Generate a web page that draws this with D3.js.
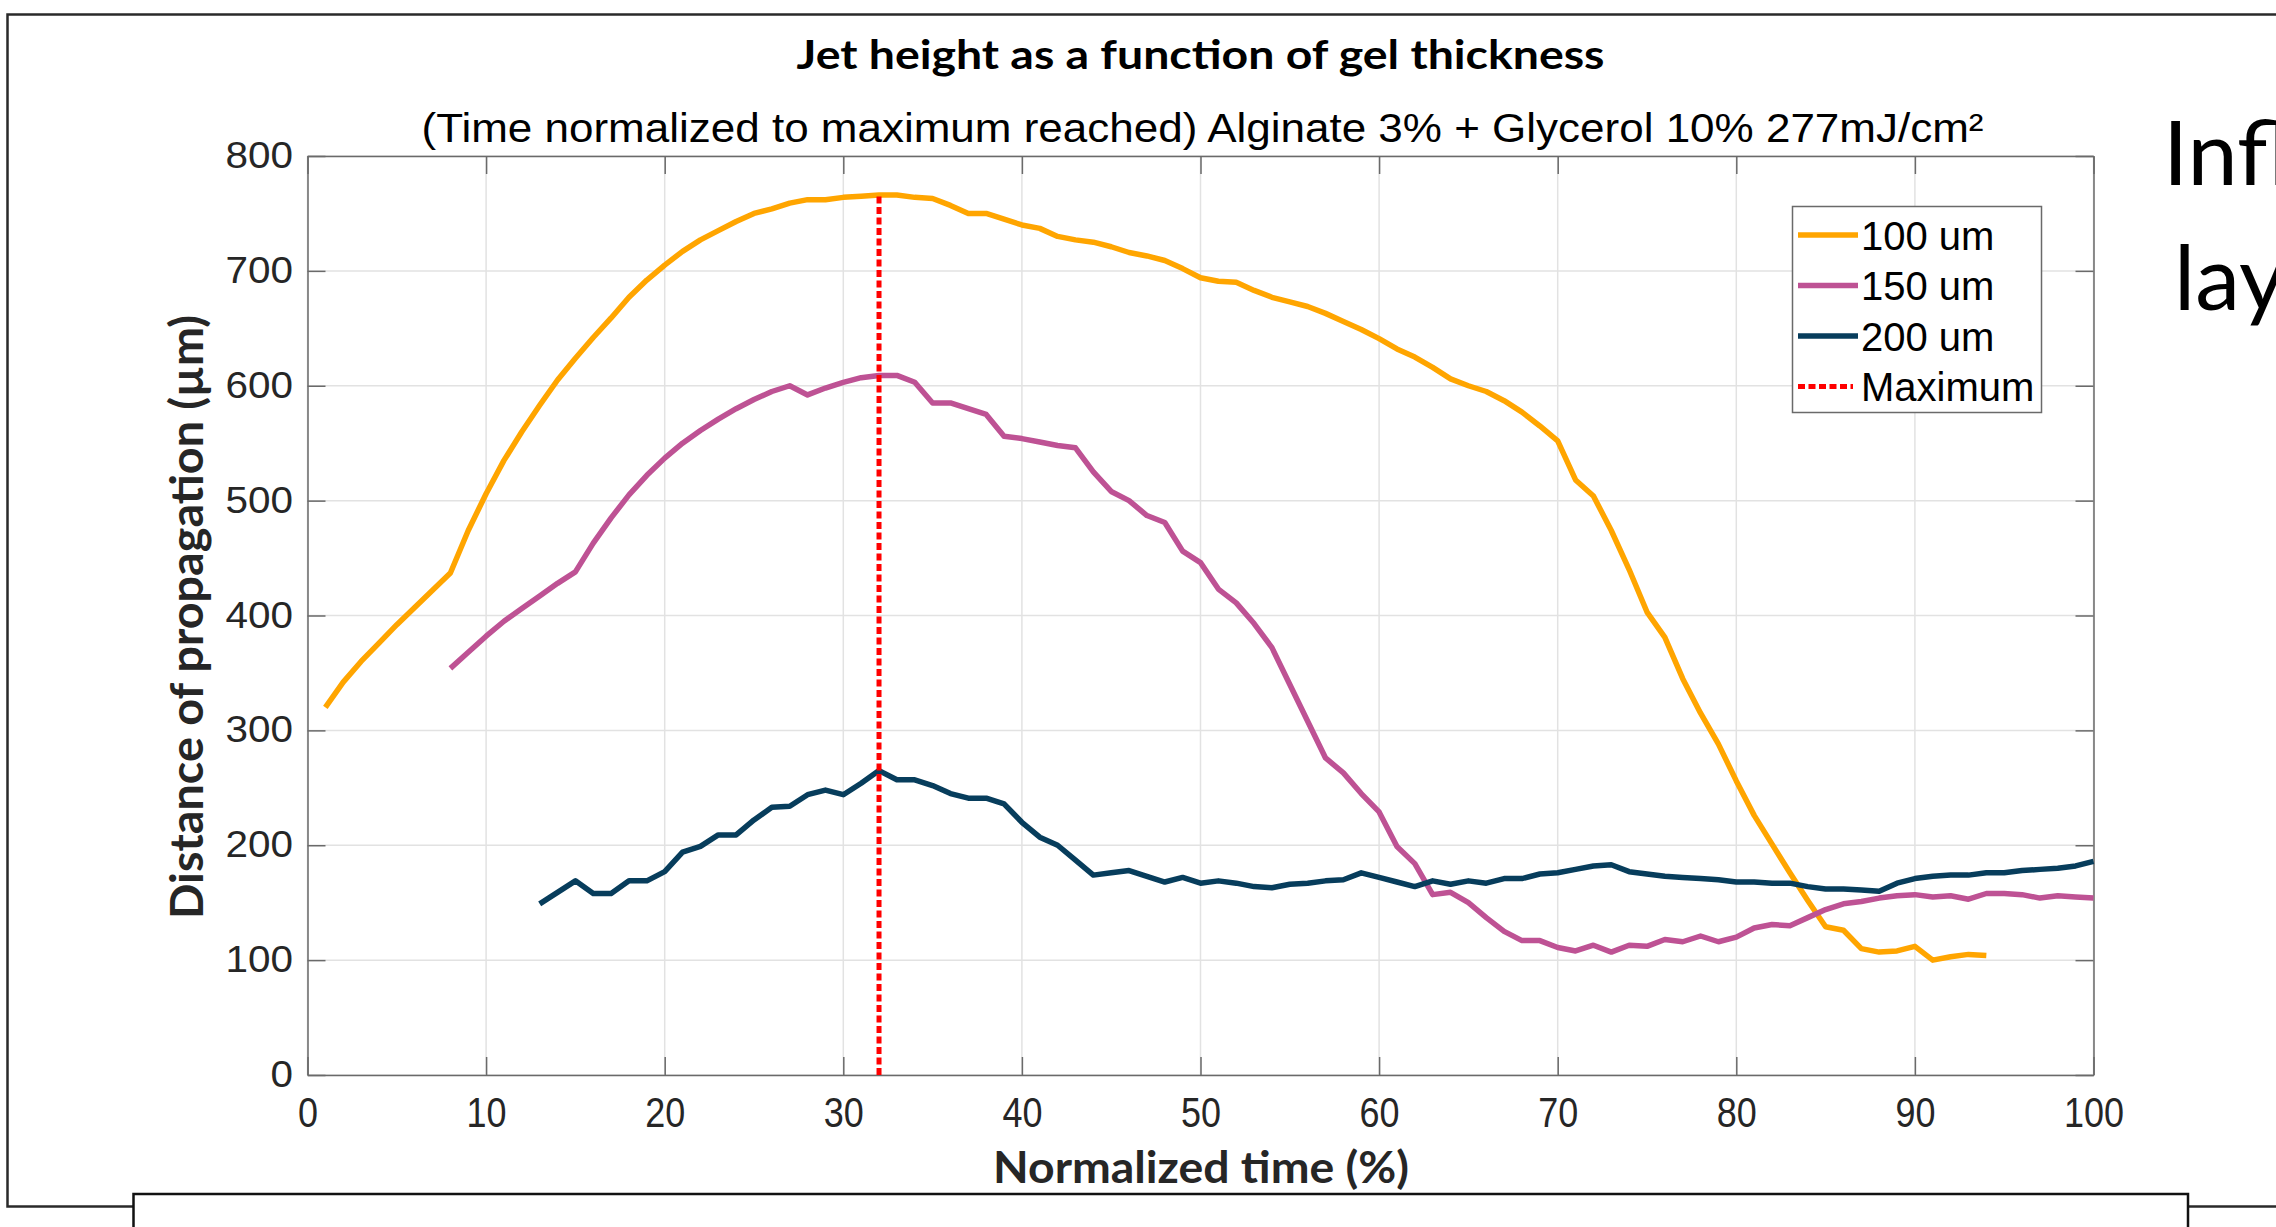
<!DOCTYPE html>
<html><head><meta charset="utf-8">
<script src="https://cdn.jsdelivr.net/npm/d3@7"></script>
<style>body{margin:0;background:#fff} svg{display:block}</style>
</head><body>
<svg id="chart" width="2276" height="1227"></svg>
<script>
// ---------- data ----------
const xTicks = [0,10,20,30,40,50,60,70,80,90,100];
const yTicks = [0,100,200,300,400,500,600,700,800];
const seriesNames = ["100 um","150 um","200 um"];
const maximumName = "Maximum";

const start100 = 1;
const values100 = [320,342,360,376,392,407,422,437,474,506,
  535,560,583,605,624,642,659,677,692,705,
  717,727,735,743,750,754,759,762,762,764,
  765,766,766,764,763,757,750,750,745,740,
  737,730,727,725,721,716,713,709,702,694,
  691,690,683,677,673,669,663,656,649,641,
  632,625,616,606,600,595,587,577,565,552,
  518,504,474,440,403,381,345,315,288,256,
  226,201,176,152,129,126,110,107,108,112,
  100,103,105,104];

const start150 = 8;
const values150 = [354,368,382,
  395,406,417,428,438,463,485,505,522,537,
  550,561,571,580,588,595,600,592,598,603,
  607,609,609,603,585,585,580,575,556,554,
  551,548,546,525,508,500,487,481,456,446,
  423,411,393,372,340,308,276,263,245,229,
  199,184,157,159,150,137,125,117,117,111,
  108,113,107,113,112,118,116,121,116,120,
  128,131,130,137,144,149,151,154,156,157,
  155,156,153,158,158,157,154,156,155,154];

const start200 = 13;
const values200 = [149,159,169,158,158,169,169,177,
  194,199,209,209,222,233,234,244,248,244,
  254,265,257,257,252,245,241,241,236,220,
  207,200,187,174,176,178,173,168,172,167,
  169,167,164,163,166,167,169,170,176,172,
  168,164,169,166,169,167,171,171,175,176,
  179,182,183,177,175,173,172,171,170,168,
  168,167,167,164,162,162,161,160,167,171,
  173,174,174,176,176,178,179,180,182,186];

const maximumTime = 32;
const maximumValue = 766;

const titleText = "Jet height as a function of gel thickness";
const subtitleText = "(Time normalized to maximum reached) Alginate 3% + Glycerol 10% 277mJ/cm²";
const xLabelText = "Normalized time (%)";
const yLabelText = "Distance of propagation (µm)";
const sideLines = ["Infl", "lay"];

// ---------- style / layout ----------
const colors = ["#FFA500", "#BE5294", "#073D5C"];
const maxColor = "#FF0000";
const axisColor = "#6a6a6a";
const gridColor = "#e2e2e2";
const arial = "'Liberation Sans', Arial, sans-serif";
const calibri = "Lato, 'Open Sans', sans-serif";
const L = 307.5, R = 2093.5, T = 156, B = 1075;
const lineW = 5.5;

const svg = d3.select("#chart");

// slide frame
svg.append("rect").attr("x", 7.5).attr("y", 14.5).attr("width", 2400).attr("height", 1192)
  .attr("fill", "none").attr("stroke", "#2a2a2a").attr("stroke-width", 2.5);

// side text (cut by the window edge, as in the reference)
svg.selectAll("text.side").data(sideLines).join("text").attr("class", "side")
  .attr("x", (d, i) => i === 0 ? 2163 : 2174)
  .attr("y", (d, i) => i === 0 ? 185 : 310)
  .attr("font-family", calibri).attr("font-size", 90).attr("fill", "#000")
  .text(d => d);

const x = d3.scaleLinear().domain([0, 100]).range([L, R]);
const y = d3.scaleLinear().domain([0, 800]).range([B, T]);

// grid
const grid = svg.append("g");
grid.selectAll("line.gx").data(xTicks).join("line").attr("class", "gx")
  .attr("x1", d => x(d)).attr("x2", d => x(d)).attr("y1", T).attr("y2", B)
  .attr("stroke", gridColor).attr("stroke-width", 1.5);
grid.selectAll("line.gy").data(yTicks).join("line").attr("class", "gy")
  .attr("x1", L).attr("x2", R).attr("y1", d => y(d)).attr("y2", d => y(d))
  .attr("stroke", gridColor).attr("stroke-width", 1.5);

// axes
function styleAxis(g) {
  g.select(".domain").attr("stroke", axisColor).attr("stroke-width", 1.5);
  g.selectAll(".tick line").attr("stroke", axisColor).attr("stroke-width", 1.5);
  g.selectAll(".tick text").attr("fill", "#262626");
}
const gB = svg.append("g").attr("transform", `translate(0,${B})`)
  .call(d3.axisBottom(x).tickValues(xTicks).tickSizeInner(-18).tickSizeOuter(0).tickPadding(22));
gB.attr("font-family", arial).attr("font-size", 42);
gB.selectAll(".tick text").attr("textLength", d => String(d).length * 20)
  .attr("lengthAdjust", "spacingAndGlyphs");
styleAxis(gB);

const gL = svg.append("g").attr("transform", `translate(${L},0)`)
  .call(d3.axisLeft(y).tickValues(yTicks).tickSizeInner(-18).tickSizeOuter(0).tickPadding(14.5));
gL.attr("font-family", arial).attr("font-size", 36);
gL.selectAll(".tick text").attr("textLength", d => String(d).length * 22.5)
  .attr("lengthAdjust", "spacingAndGlyphs");
styleAxis(gL);

const gT = svg.append("g").attr("transform", `translate(0,${T})`)
  .call(d3.axisTop(x).tickValues(xTicks).tickSizeInner(-18).tickSizeOuter(0).tickFormat(""));
styleAxis(gT);
const gR = svg.append("g").attr("transform", `translate(${R},0)`)
  .call(d3.axisRight(y).tickValues(yTicks).tickSizeInner(-18).tickSizeOuter(0).tickFormat(""));
styleAxis(gR);

// series
const series = [
  {name: seriesNames[0], start: start100, values: values100, color: colors[0]},
  {name: seriesNames[1], start: start150, values: values150, color: colors[1]},
  {name: seriesNames[2], start: start200, values: values200, color: colors[2]}
];
const line = d3.line().x(d => x(d.t)).y(d => y(d.v));
series.forEach(s => {
  const pts = s.values.map((v, i) => ({t: s.start + i, v}));
  svg.append("path").datum(pts).attr("d", line)
    .attr("fill", "none").attr("stroke", s.color).attr("stroke-width", lineW)
    .attr("stroke-linejoin", "round");
});

// maximum marker
svg.append("line").attr("x1", x(maximumTime)).attr("x2", x(maximumTime))
  .attr("y1", y(0)).attr("y2", y(maximumValue))
  .attr("stroke", maxColor).attr("stroke-width", 5).attr("stroke-dasharray", "7,3.5");

// legend
const lg = svg.append("g");
lg.append("rect").attr("x", 1792.5).attr("y", 206.5).attr("width", 249).attr("height", 206)
  .attr("fill", "#fff").attr("stroke", axisColor).attr("stroke-width", 1.5);
const legendItems = series.map(s => ({name: s.name, color: s.color, dash: null}))
  .concat([{name: maximumName, color: maxColor, dash: "7,3.5"}]);
const rowY = i => 235 + i * 50.5;
legendItems.forEach((it, i) => {
  lg.append("line").attr("x1", 1798).attr("x2", it.dash ? 1853 : 1858)
    .attr("y1", rowY(i)).attr("y2", rowY(i))
    .attr("stroke", it.color).attr("stroke-width", it.dash ? 5 : lineW)
    .attr("stroke-dasharray", it.dash);
  lg.append("text").attr("x", 1861).attr("y", rowY(i) + 14.5)
    .attr("font-family", arial).attr("font-size", 40).attr("fill", "#000")
    .text(it.name);
});

// titles and labels
svg.append("text").attr("x", 1200.5).attr("y", 69).attr("text-anchor", "middle")
  .attr("font-family", calibri).attr("font-weight", "bold").attr("font-size", 41)
  .attr("textLength", 808).attr("lengthAdjust", "spacingAndGlyphs").attr("fill", "#000")
  .text(titleText);
svg.append("text").attr("x", 1202.5).attr("y", 142).attr("text-anchor", "middle")
  .attr("font-family", arial).attr("font-size", 41)
  .attr("textLength", 1562).attr("lengthAdjust", "spacingAndGlyphs").attr("fill", "#000")
  .text(subtitleText);
svg.append("text").attr("x", 1201).attr("y", 1183).attr("text-anchor", "middle")
  .attr("font-family", calibri).attr("font-weight", "bold").attr("font-size", 44)
  .attr("textLength", 416).attr("lengthAdjust", "spacingAndGlyphs").attr("fill", "#262626")
  .text(xLabelText);
svg.append("text").attr("transform", "translate(203,617) rotate(-90)").attr("text-anchor", "middle")
  .attr("font-family", calibri).attr("font-weight", "bold").attr("font-size", 45)
  .attr("textLength", 604).attr("lengthAdjust", "spacingAndGlyphs").attr("fill", "#262626")
  .text(yLabelText);

// bottom text box of the slide
svg.append("rect").attr("x", 133.5).attr("y", 1194).attr("width", 2054.5).attr("height", 100)
  .attr("fill", "#fff").attr("stroke", "#111").attr("stroke-width", 2.5);
</script>
</body></html>
